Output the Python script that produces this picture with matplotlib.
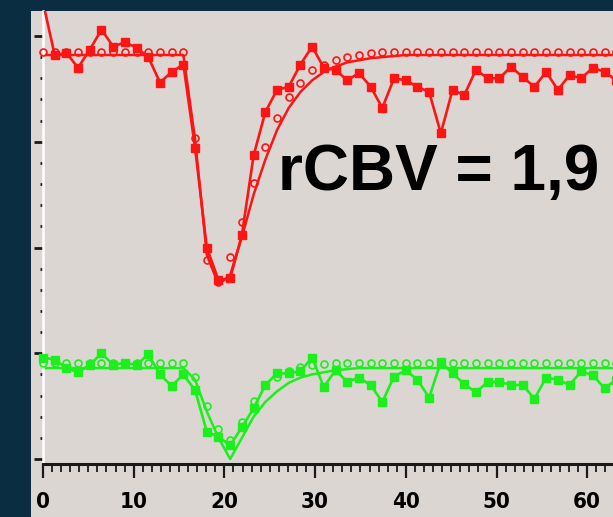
import numpy as np
import matplotlib
matplotlib.use("Agg")
import matplotlib.pyplot as plt
from matplotlib.ticker import FixedLocator

## données (unités arbitraires, grille 0..400)
dt = 1.29
t = np.arange(50) * dt

rouge_mesure = [432, 382, 384, 370, 387, 406, 390, 394, 389, 380,
                356, 366, 373, 294, 200, 169, 171, 212, 287, 328,
                349, 352, 373, 390, 370, 368, 358, 365, 352, 332,
                360, 358, 352, 347, 308, 349, 344, 368, 360, 360,
                371, 361, 352, 366, 349, 363, 360, 370, 366, 358]
rouge_cercles = [385, 385, 385, 385, 385, 385, 385, 385, 385, 385,
                 385, 385, 385, 304, 188, 167, 191, 224, 261, 295,
                 322, 342, 356, 368, 373, 377, 380, 382, 384, 385,
                 385, 385, 385, 385, 385, 385, 385, 385, 385, 385,
                 385, 385, 385, 385, 385, 385, 385, 385, 385, 385]
rouge_fit = [382, 382, 382, 382, 382, 382, 382, 382, 382, 382,
             382, 382, 382, 302, 193, 165, 174, 210, 250, 283,
             311, 332, 347, 358, 366, 371, 375, 377, 379, 380,
             381, 382, 382, 382, 382, 382, 382, 382, 382, 382,
             382, 382, 382, 382, 382, 382, 382, 382, 382, 382]

vert_mesure = [96, 94, 86, 82, 89, 100, 89, 91, 89, 99,
               80, 69, 80, 65, 26, 21, 13, 30, 48, 70,
               81, 81, 83, 96, 68, 84, 73, 77, 70, 54,
               78, 84, 75, 58, 92, 81, 71, 63, 73, 73,
               70, 70, 57, 77, 75, 70, 83, 79, 67, 75]
vert_cercles = [91, 91, 91, 91, 91, 91, 91, 91, 91, 91,
                91, 91, 91, 78, 50, 28, 18, 35, 55, 70,
                78, 83, 87, 89, 90, 91, 91, 91, 91, 91,
                91, 91, 91, 91, 91, 91, 91, 91, 91, 91,
                91, 91, 91, 91, 91, 91, 91, 91, 91, 91]
vert_fit = [86, 86, 86, 86, 86, 86, 86, 86, 86, 86,
            86, 86, 86, 75, 45, 20, 0, 20, 40, 54,
            64, 72, 77, 80, 82, 84, 85, 86, 86, 86,
            86, 86, 86, 86, 86, 86, 86, 86, 86, 86,
            86, 86, 86, 86, 86, 86, 86, 86, 86, 86]

texte = "rCBV = 1,9"

ROUGE = '#ff1414'
VERT = '#1cf01c'
FOND = '#0b2d42'
GRIS = '#dcd6d3'

fig = plt.figure(figsize=(6.13, 5.17), dpi=100, facecolor=FOND)
ax = fig.add_axes([31/613, 0, 582/613, 506/517], facecolor=GRIS)

# courbes ajustées
ax.plot(t, rouge_fit, color=ROUGE, lw=1.8, zorder=2)
ax.plot(t, vert_fit, color=VERT, lw=1.8, zorder=2)
# cercles (valeurs ajustées)
ax.plot(t, rouge_cercles, 'o', ms=5, mfc='none', mec=ROUGE, mew=1.2, zorder=3)
ax.plot(t, vert_cercles, 'o', ms=5, mfc='none', mec=VERT, mew=1.2, zorder=3)
# mesures
ax.plot(t, rouge_mesure, '-s', color=ROUGE, lw=1.9, ms=6, zorder=4)
ax.plot(t, vert_mesure, '-s', color=VERT, lw=1.9, ms=6, zorder=4)

ax.text(25.9, 254, texte, fontsize=46, fontweight='bold', color='black',
        family='Liberation Sans', va='baseline', ha='left', zorder=5)

ax.set_xlim(-1.32, 62.84)
ax.set_ylim(-54.8, 423.6)

# axes
for s in ['top', 'right']:
    ax.spines[s].set_visible(False)
ax.spines['bottom'].set_position(('data', -4.7))
ax.spines['bottom'].set_bounds(0, 62.84)
ax.spines['bottom'].set_linewidth(2.2)
ax.spines['bottom'].set_color('#1a1a1a')
ax.spines['left'].set_position(('data', 0))
ax.spines['left'].set_bounds(-4.7, 423.6)
ax.spines['left'].set_color('white')
ax.spines['left'].set_linewidth(1.8)

ax.set_xticks(range(0, 61, 10))
ax.xaxis.set_minor_locator(FixedLocator(range(0, 63)))
ax.tick_params(axis='x', which='major', direction='out', length=10, width=1.6,
               color='#1a1a1a', pad=10)
ax.tick_params(axis='x', which='minor', direction='out', length=6, width=1.3,
               color='#1a1a1a')
for lab in ax.get_xticklabels():
    lab.set_fontfamily('DejaVu Sans')
    lab.set_fontstretch('condensed')
    lab.set_fontweight('bold')
    lab.set_fontsize(16)
    lab.set_color('black')

ax.set_yticks(range(0, 401, 100))
ax.yaxis.set_minor_locator(FixedLocator(range(0, 420, 20)))
ax.set_yticklabels([])
ax.tick_params(axis='y', which='major', direction='out', length=6.5, width=2,
               color='#1a1a1a')
ax.tick_params(axis='y', which='minor', direction='out', length=2.2, width=2,
               color='#1a1a1a')

fig.savefig('out.png', dpi=100, facecolor=FOND)
